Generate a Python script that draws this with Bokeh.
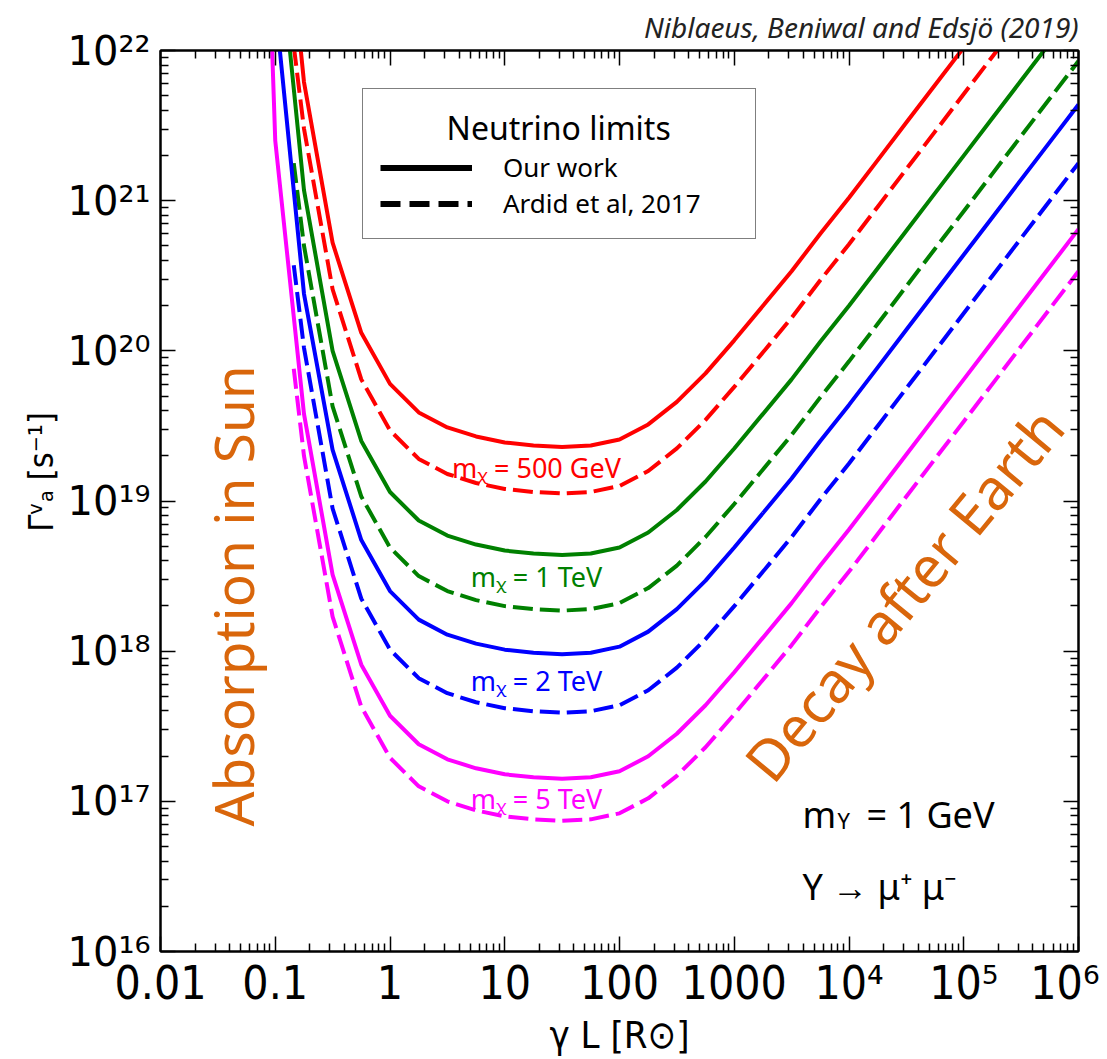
import numpy as np
from bokeh.plotting import figure
from bokeh.models import Range1d, FixedTicker, LogAxis, Label, Legend, LegendItem, Title
from bokeh.embed import file_html
from bokeh.resources import INLINE

# ---------------- data ----------------
gamma_L_ours = [0.0562, 0.1, 0.178, 0.316, 0.562, 1.0, 1.78, 3.16, 5.62, 10.0,
                17.8, 31.6, 56.2, 100.0, 178.0, 316.0, 562.0, 1000.0, 1780.0, 3160.0,
                5620.0, 1e4, 1.78e4, 3.16e4, 5.62e4, 1e5, 1.78e5, 3.16e5, 5.62e5, 1e6]
gamma_L_ardid = [0.145, 0.178, 0.316, 0.562, 1.0, 1.78, 3.16, 5.62, 10.0,
                 17.8, 31.6, 56.2, 100.0, 178.0, 316.0, 562.0, 1000.0, 1780.0, 3160.0,
                 5620.0, 1e4, 1.78e4, 3.16e4, 5.62e4, 1e5, 1.78e5, 3.16e5, 5.62e5, 1e6]

# log10 of Gamma_A [s^-1]
log_ours_500GeV = [27.07, 23.69, 21.79, 20.72, 20.12, 19.78, 19.59, 19.49, 19.43, 19.39,
                   19.37, 19.36, 19.37, 19.41, 19.51, 19.66, 19.85, 20.07, 20.30, 20.53,
                   20.78, 21.02, 21.27, 21.52, 21.77, 22.02, 22.27, 22.52, 22.77, 23.02]
log_ours_1TeV = [26.35, 22.97, 21.07, 20.00, 19.40, 19.06, 18.87, 18.77, 18.71, 18.67,
                 18.65, 18.64, 18.65, 18.69, 18.79, 18.94, 19.13, 19.35, 19.58, 19.81,
                 20.06, 20.30, 20.55, 20.80, 21.05, 21.30, 21.55, 21.80, 22.05, 22.30]
log_ours_2TeV = [25.69, 22.31, 20.38, 19.34, 18.74, 18.40, 18.21, 18.11, 18.05, 18.01,
                 17.99, 17.98, 17.99, 18.03, 18.13, 18.28, 18.47, 18.69, 18.92, 19.15,
                 19.40, 19.64, 19.89, 20.14, 20.39, 20.64, 20.89, 21.14, 21.39, 21.64]
log_ours_5TeV = [27.00, 21.40, 19.58, 18.51, 17.91, 17.57, 17.38, 17.28, 17.22, 17.18,
                 17.16, 17.15, 17.16, 17.20, 17.30, 17.45, 17.64, 17.86, 18.09, 18.32,
                 18.57, 18.81, 19.06, 19.31, 19.56, 19.81, 20.06, 20.31, 20.56, 20.81]

log_ardid_500GeV = [22.03, 21.48, 20.41, 19.81, 19.47, 19.28, 19.18, 19.12, 19.08, 19.06,
                    19.05, 19.06, 19.10, 19.20, 19.35, 19.54, 19.76, 19.99, 20.22, 20.47,
                    20.71, 20.96, 21.21, 21.46, 21.71, 21.96, 22.21, 22.46, 22.71]
log_ardid_1TeV = [21.25, 20.70, 19.63, 19.03, 18.69, 18.50, 18.40, 18.34, 18.30, 18.28,
                  18.27, 18.28, 18.32, 18.42, 18.57, 18.76, 18.98, 19.21, 19.44, 19.69,
                  19.93, 20.18, 20.43, 20.68, 20.93, 21.18, 21.43, 21.68, 21.93]
log_ardid_2TeV = [20.57, 20.02, 18.95, 18.35, 18.01, 17.82, 17.72, 17.66, 17.62, 17.60,
                  17.59, 17.60, 17.64, 17.74, 17.89, 18.08, 18.30, 18.53, 18.76, 19.01,
                  19.25, 19.50, 19.75, 20.00, 20.25, 20.50, 20.75, 21.00, 21.25]
log_ardid_5TeV = [19.88, 19.30, 18.23, 17.63, 17.29, 17.10, 17.00, 16.94, 16.90, 16.88,
                  16.87, 16.88, 16.92, 17.02, 17.17, 17.36, 17.58, 17.81, 18.04, 18.29,
                  18.53, 18.78, 19.03, 19.28, 19.53, 19.78, 20.03, 20.28, 20.53]

mass_labels = ["mᵪ = 500 GeV", "mᵪ = 1 TeV", "mᵪ = 2 TeV", "mᵪ = 5 TeV"]
colors = ["#ff0000", "#008000", "#0000ff", "#ff00ff"]

x_major = [0.01, 0.1, 1.0, 10.0, 100.0, 1000.0, 1e4, 1e5, 1e6]
x_tick_labels = ["0.01", "0.1", "1", "10", "100", "1000", "10⁴", "10⁵", "10⁶"]
y_major = [1e16, 1e17, 1e18, 1e19, 1e20, 1e21, 1e22]
y_tick_labels = ["10¹⁶", "10¹⁷", "10¹⁸", "10¹⁹", "10²⁰", "10²¹", "10²²"]

# ---------------- layout helpers (page pixel -> data) ----------------
W, H = 1099, 1059
FX0, FX1, FY0, FY1 = 160, 1078, 45, 957   # frame edges in page pixels
NBSP = "\u00a0"


def dx(px):
    return 10 ** ((px - FX0) / ((FX1 - FX0) / 8.0) - 2)


def dy(py):
    return 10 ** (22 - (py - FY0) / ((FY1 - FY0) / 6.0))


NARROW = "Liberation Sans Narrow, DejaVu Sans Condensed, Noto Sans"
SANS = "Noto Sans"
ORANGE = "#d9660b"

p = figure(width=W, height=H, x_axis_type="log", y_axis_type="log",
           x_range=Range1d(0.01, 1e6), y_range=Range1d(1e16, 1e22),
           output_backend="svg", toolbar_location=None,
           min_border_left=FX0, min_border_right=W - FX1,
           min_border_top=FY0, min_border_bottom=H - FY1)
p.xgrid.visible = False
p.ygrid.visible = False
p.outline_line_color = "black"
p.outline_line_width = 2
p.background_fill_color = "white"
p.border_fill_color = "white"

x_minor = [k * 10.0 ** e for e in range(-2, 6) for k in range(2, 10)]
y_minor = [k * 10.0 ** e for e in range(16, 22) for k in range(2, 10)]
xticker = FixedTicker(ticks=x_major, minor_ticks=x_minor)
yticker = FixedTicker(ticks=y_major, minor_ticks=y_minor)


def style_axis(ax):
    ax.major_tick_in = 15
    ax.major_tick_out = 0
    ax.minor_tick_in = 8
    ax.minor_tick_out = 0
    ax.axis_line_width = 2
    ax.major_tick_line_width = 1.5
    ax.minor_tick_line_width = 1.5
    ax.major_label_text_color = "black"
    ax.axis_label_text_color = "black"


xa = p.xaxis[0]
xa.ticker = xticker
style_axis(xa)
xa.major_label_overrides = dict(zip(x_major, x_tick_labels))
xa.major_label_text_font = NARROW
xa.major_label_text_font_size = "46px"
xa.major_label_standoff = 4
xa.axis_label = "γ L [R⊙]"
xa.axis_label_text_font = NARROW
xa.axis_label_text_font_size = "38px"
xa.axis_label_text_font_style = "normal"
xa.axis_label_standoff = 0

ya = p.yaxis[0]
ya.ticker = yticker
style_axis(ya)
ya.major_label_overrides = dict(zip(y_major, y_tick_labels))
ya.major_label_text_font = "DejaVu Sans"
ya.major_label_text_font_size = "40px"
ya.major_label_standoff = 10
ya.axis_label = NBSP * 6 + "Γᵛₐ [s⁻¹]"
ya.axis_label_text_font = NARROW
ya.axis_label_text_font_size = "34px"
ya.axis_label_text_font_style = "normal"
ya.axis_label_standoff = 4

top = LogAxis(ticker=xticker, major_label_overrides={t: "" for t in x_major},
              major_label_text_font_size="1px", major_label_standoff=0)
style_axis(top)
p.add_layout(top, "above")
right = LogAxis(ticker=yticker, major_label_overrides={t: "" for t in y_major},
                major_label_text_font_size="1px", major_label_standoff=0)
style_axis(right)
p.add_layout(right, "right")

p.add_layout(Title(text="Niblaeus, Beniwal and Edsjö (2019)", align="right",
                   text_font=SANS, text_font_style="italic", text_font_size="28px",
                   text_color="#222222", standoff=10), "above")

# ---------------- curves ----------------
ardid_sets = [log_ardid_500GeV, log_ardid_1TeV, log_ardid_2TeV, log_ardid_5TeV]
ours_sets = [log_ours_500GeV, log_ours_1TeV, log_ours_2TeV, log_ours_5TeV]
for logs, c in zip(ardid_sets, colors):
    p.line(gamma_L_ardid, 10 ** np.array(logs), line_color=c, line_width=4,
           line_dash="20 7")
for logs, c in zip(ours_sets, colors):
    p.line(gamma_L_ours, 10 ** np.array(logs), line_color=c, line_width=4)

# ---------------- legend ----------------
r_solid = p.line([np.nan, np.nan], [np.nan, np.nan], line_color="black", line_width=6)
r_dash = p.line([np.nan, np.nan], [np.nan, np.nan], line_color="black", line_width=6,
                line_dash="20 9")
legend = Legend(items=[LegendItem(label="Our work", renderers=[r_solid]),
                       LegendItem(label="Ardid et al, 2017", renderers=[r_dash])],
                location=(362 - FX0, FY1 - 238 - 7),
                title=NBSP * 8 + "Neutrino limits",
                title_text_font=SANS, title_text_font_size="32px",
                title_text_font_style="normal", title_text_color="black",
                title_standoff=0,
                padding=17, spacing=-3, margin=0,
                glyph_width=92, glyph_height=31, label_height=31, label_width=235,
                label_standoff=31, label_text_font=SANS, label_text_font_size="26px",
                label_text_color="black",
                border_line_color="black", border_line_width=1.5,
                background_fill_color="white", background_fill_alpha=1.0)
p.add_layout(legend)

# ---------------- in-plot labels ----------------
label_py = [467, 577, 683, 802]
for txt, c, py in zip(mass_labels, colors, label_py):
    p.add_layout(Label(x=dx(536), y=dy(py), text=txt, text_align="center",
                       text_baseline="middle", text_font=SANS, text_font_size="27px",
                       text_color=c))

p.add_layout(Label(x=dx(232), y=dy(597), text="Absorption in Sun", angle=np.pi / 2,
                   text_align="center", text_baseline="middle", text_font=SANS,
                   text_font_size="55px", text_color=ORANGE))
p.add_layout(Label(x=dx(903), y=dy(595), text="Decay after Earth", angle=np.radians(50.5),
                   text_align="center", text_baseline="middle", text_font=SANS,
                   text_font_size="57px", text_color=ORANGE))

p.add_layout(Label(x=dx(802), y=dy(818), text="m", text_baseline="alphabetic",
                   text_font=SANS, text_font_size="36px", text_color="black"))
p.add_layout(Label(x=dx(837), y=dy(824), text="Y", text_baseline="alphabetic",
                   text_font=SANS, text_font_size="22px", text_color="black"))
p.add_layout(Label(x=dx(866), y=dy(818), text="= 1 GeV", text_baseline="alphabetic",
                   text_font=SANS, text_font_size="36px", text_color="black"))
p.add_layout(Label(x=dx(802), y=dy(891), text="Y → μ⁺ μ⁻", text_baseline="alphabetic",
                   text_font=SANS, text_font_size="36px", text_color="black"))

open("out.html", "w").write(file_html(p, INLINE))
